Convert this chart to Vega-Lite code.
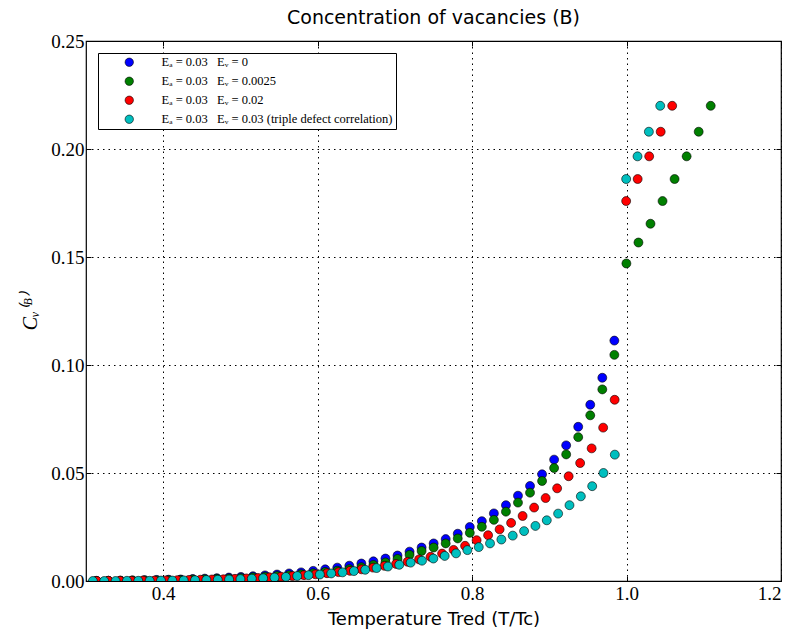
{
  "$schema": "https://vega.github.io/schema/vega-lite/v6.json",
  "width": 695,
  "height": 540,
  "autosize": {"type": "none"},
  "padding": {"left": 86, "top": 41, "right": 13, "bottom": 52},
  "background": "white",
  "title": {
    "text": "Concentration of vacancies (B)",
    "font": "DejaVu Sans",
    "fontSize": 19,
    "fontWeight": "normal",
    "color": "black",
    "anchor": "middle",
    "offset": 4
  },
  "config": {
    "view": {"stroke": "black", "strokeWidth": 1.2},
    "axis": {
      "domain": false,
      "tickColor": "black",
      "tickSize": -5,
      "tickWidth": 1,
      "labelColor": "black",
      "labelFont": "Liberation Serif",
      "labelFontSize": 19,
      "titleColor": "black",
      "titleFontWeight": "normal",
      "gridColor": "black",
      "gridDash": [1.5, 4],
      "gridWidth": 1,
      "gridOpacity": 1,
      "zindex": 1
    }
  },
  "data": {
    "values": [
      {"Ev": "0", "T": 0.9842, "C": 0.1113},
      {"Ev": "0", "T": 0.9686, "C": 0.0941},
      {"Ev": "0", "T": 0.9530, "C": 0.0816},
      {"Ev": "0", "T": 0.9374, "C": 0.0714},
      {"Ev": "0", "T": 0.9218, "C": 0.0628},
      {"Ev": "0", "T": 0.9062, "C": 0.0562},
      {"Ev": "0", "T": 0.8906, "C": 0.0494},
      {"Ev": "0", "T": 0.8750, "C": 0.0440},
      {"Ev": "0", "T": 0.8594, "C": 0.0395},
      {"Ev": "0", "T": 0.8438, "C": 0.0351},
      {"Ev": "0", "T": 0.8282, "C": 0.0313},
      {"Ev": "0", "T": 0.8126, "C": 0.0277},
      {"Ev": "0", "T": 0.7970, "C": 0.0250},
      {"Ev": "0", "T": 0.7814, "C": 0.0219},
      {"Ev": "0", "T": 0.7658, "C": 0.0194},
      {"Ev": "0", "T": 0.7502, "C": 0.0174},
      {"Ev": "0", "T": 0.7346, "C": 0.0155},
      {"Ev": "0", "T": 0.7190, "C": 0.0136},
      {"Ev": "0", "T": 0.7034, "C": 0.0118},
      {"Ev": "0", "T": 0.6878, "C": 0.0104},
      {"Ev": "0", "T": 0.6722, "C": 0.0091},
      {"Ev": "0", "T": 0.6566, "C": 0.0081},
      {"Ev": "0", "T": 0.6410, "C": 0.0071},
      {"Ev": "0", "T": 0.6254, "C": 0.0062},
      {"Ev": "0", "T": 0.6098, "C": 0.0054},
      {"Ev": "0", "T": 0.5942, "C": 0.0047},
      {"Ev": "0", "T": 0.5786, "C": 0.0040},
      {"Ev": "0", "T": 0.5630, "C": 0.0035},
      {"Ev": "0", "T": 0.5474, "C": 0.0030},
      {"Ev": "0", "T": 0.5318, "C": 0.0026},
      {"Ev": "0", "T": 0.5162, "C": 0.0022},
      {"Ev": "0", "T": 0.5006, "C": 0.0019},
      {"Ev": "0", "T": 0.4850, "C": 0.0016},
      {"Ev": "0", "T": 0.4694, "C": 0.0013},
      {"Ev": "0", "T": 0.4538, "C": 0.0011},
      {"Ev": "0", "T": 0.4382, "C": 0.0009},
      {"Ev": "0", "T": 0.4226, "C": 0.0007},
      {"Ev": "0", "T": 0.4070, "C": 0.0006},
      {"Ev": "0", "T": 0.3914, "C": 0.0005},
      {"Ev": "0", "T": 0.3758, "C": 0.0004},
      {"Ev": "0", "T": 0.3602, "C": 0.0003},
      {"Ev": "0", "T": 0.3446, "C": 0.0002},
      {"Ev": "0", "T": 0.3290, "C": 0.0001},
      {"Ev": "0", "T": 0.3134, "C": 0.0001},

      {"Ev": "0.0025", "T": 1.1090, "C": 0.2200},
      {"Ev": "0.0025", "T": 1.0934, "C": 0.2080},
      {"Ev": "0.0025", "T": 1.0778, "C": 0.1966},
      {"Ev": "0.0025", "T": 1.0622, "C": 0.1861},
      {"Ev": "0.0025", "T": 1.0466, "C": 0.1759},
      {"Ev": "0.0025", "T": 1.0310, "C": 0.1654},
      {"Ev": "0.0025", "T": 1.0154, "C": 0.1567},
      {"Ev": "0.0025", "T": 0.9998, "C": 0.1470},
      {"Ev": "0.0025", "T": 0.9842, "C": 0.1047},
      {"Ev": "0.0025", "T": 0.9686, "C": 0.0887},
      {"Ev": "0.0025", "T": 0.9530, "C": 0.0767},
      {"Ev": "0.0025", "T": 0.9374, "C": 0.0666},
      {"Ev": "0.0025", "T": 0.9218, "C": 0.0586},
      {"Ev": "0.0025", "T": 0.9062, "C": 0.0523},
      {"Ev": "0.0025", "T": 0.8906, "C": 0.0463},
      {"Ev": "0.0025", "T": 0.8750, "C": 0.0409},
      {"Ev": "0.0025", "T": 0.8594, "C": 0.0363},
      {"Ev": "0.0025", "T": 0.8438, "C": 0.0321},
      {"Ev": "0.0025", "T": 0.8282, "C": 0.0283},
      {"Ev": "0.0025", "T": 0.8126, "C": 0.0251},
      {"Ev": "0.0025", "T": 0.7970, "C": 0.0223},
      {"Ev": "0.0025", "T": 0.7814, "C": 0.0197},
      {"Ev": "0.0025", "T": 0.7658, "C": 0.0174},
      {"Ev": "0.0025", "T": 0.7502, "C": 0.0155},
      {"Ev": "0.0025", "T": 0.7346, "C": 0.0139},
      {"Ev": "0.0025", "T": 0.7190, "C": 0.0121},
      {"Ev": "0.0025", "T": 0.7034, "C": 0.0102},
      {"Ev": "0.0025", "T": 0.6878, "C": 0.0086},
      {"Ev": "0.0025", "T": 0.6722, "C": 0.0074},
      {"Ev": "0.0025", "T": 0.6566, "C": 0.0064},
      {"Ev": "0.0025", "T": 0.6410, "C": 0.0055},
      {"Ev": "0.0025", "T": 0.6254, "C": 0.0048},
      {"Ev": "0.0025", "T": 0.6098, "C": 0.0042},
      {"Ev": "0.0025", "T": 0.5942, "C": 0.0036},
      {"Ev": "0.0025", "T": 0.5786, "C": 0.0031},
      {"Ev": "0.0025", "T": 0.5630, "C": 0.0027},
      {"Ev": "0.0025", "T": 0.5474, "C": 0.0023},
      {"Ev": "0.0025", "T": 0.5318, "C": 0.0020},
      {"Ev": "0.0025", "T": 0.5162, "C": 0.0017},
      {"Ev": "0.0025", "T": 0.5006, "C": 0.0014},
      {"Ev": "0.0025", "T": 0.4850, "C": 0.0012},
      {"Ev": "0.0025", "T": 0.4694, "C": 0.0010},
      {"Ev": "0.0025", "T": 0.4538, "C": 0.0008},
      {"Ev": "0.0025", "T": 0.4382, "C": 0.0007},
      {"Ev": "0.0025", "T": 0.4226, "C": 0.0005},
      {"Ev": "0.0025", "T": 0.4070, "C": 0.0004},
      {"Ev": "0.0025", "T": 0.3914, "C": 0.0003},
      {"Ev": "0.0025", "T": 0.3758, "C": 0.0003},
      {"Ev": "0.0025", "T": 0.3602, "C": 0.0002},
      {"Ev": "0.0025", "T": 0.3446, "C": 0.0001},
      {"Ev": "0.0025", "T": 0.3290, "C": 0.0001},
      {"Ev": "0.0025", "T": 0.3134, "C": 0.0000},

      {"Ev": "0.02", "T": 1.0591, "C": 0.2200},
      {"Ev": "0.02", "T": 1.0442, "C": 0.2080},
      {"Ev": "0.02", "T": 1.0293, "C": 0.1966},
      {"Ev": "0.02", "T": 1.0144, "C": 0.1861},
      {"Ev": "0.02", "T": 0.9995, "C": 0.1759},
      {"Ev": "0.02", "T": 0.9846, "C": 0.0839},
      {"Ev": "0.02", "T": 0.9697, "C": 0.0710},
      {"Ev": "0.02", "T": 0.9548, "C": 0.0614},
      {"Ev": "0.02", "T": 0.9399, "C": 0.0546},
      {"Ev": "0.02", "T": 0.9250, "C": 0.0485},
      {"Ev": "0.02", "T": 0.9101, "C": 0.0429},
      {"Ev": "0.02", "T": 0.8952, "C": 0.0384},
      {"Ev": "0.02", "T": 0.8803, "C": 0.0340},
      {"Ev": "0.02", "T": 0.8654, "C": 0.0301},
      {"Ev": "0.02", "T": 0.8505, "C": 0.0269},
      {"Ev": "0.02", "T": 0.8356, "C": 0.0239},
      {"Ev": "0.02", "T": 0.8207, "C": 0.0212},
      {"Ev": "0.02", "T": 0.8058, "C": 0.0189},
      {"Ev": "0.02", "T": 0.7909, "C": 0.0163},
      {"Ev": "0.02", "T": 0.7760, "C": 0.0144},
      {"Ev": "0.02", "T": 0.7611, "C": 0.0127},
      {"Ev": "0.02", "T": 0.7462, "C": 0.0112},
      {"Ev": "0.02", "T": 0.7313, "C": 0.0100},
      {"Ev": "0.02", "T": 0.7164, "C": 0.0089},
      {"Ev": "0.02", "T": 0.7015, "C": 0.0079},
      {"Ev": "0.02", "T": 0.6866, "C": 0.0070},
      {"Ev": "0.02", "T": 0.6717, "C": 0.0062},
      {"Ev": "0.02", "T": 0.6568, "C": 0.0054},
      {"Ev": "0.02", "T": 0.6419, "C": 0.0047},
      {"Ev": "0.02", "T": 0.6270, "C": 0.0041},
      {"Ev": "0.02", "T": 0.6121, "C": 0.0036},
      {"Ev": "0.02", "T": 0.5972, "C": 0.0031},
      {"Ev": "0.02", "T": 0.5823, "C": 0.0027},
      {"Ev": "0.02", "T": 0.5674, "C": 0.0023},
      {"Ev": "0.02", "T": 0.5525, "C": 0.0020},
      {"Ev": "0.02", "T": 0.5376, "C": 0.0017},
      {"Ev": "0.02", "T": 0.5227, "C": 0.0014},
      {"Ev": "0.02", "T": 0.5078, "C": 0.0012},
      {"Ev": "0.02", "T": 0.4929, "C": 0.0010},
      {"Ev": "0.02", "T": 0.4780, "C": 0.0008},
      {"Ev": "0.02", "T": 0.4631, "C": 0.0007},
      {"Ev": "0.02", "T": 0.4482, "C": 0.0006},
      {"Ev": "0.02", "T": 0.4333, "C": 0.0005},
      {"Ev": "0.02", "T": 0.4184, "C": 0.0004},
      {"Ev": "0.02", "T": 0.4035, "C": 0.0003},
      {"Ev": "0.02", "T": 0.3886, "C": 0.0002},
      {"Ev": "0.02", "T": 0.3737, "C": 0.0002},
      {"Ev": "0.02", "T": 0.3588, "C": 0.0001},
      {"Ev": "0.02", "T": 0.3439, "C": 0.0001},
      {"Ev": "0.02", "T": 0.3290, "C": 0.0001},
      {"Ev": "0.02", "T": 0.3141, "C": 0.0000},

      {"Ev": "0.03", "T": 1.0436, "C": 0.2200},
      {"Ev": "0.03", "T": 1.0289, "C": 0.2080},
      {"Ev": "0.03", "T": 1.0142, "C": 0.1966},
      {"Ev": "0.03", "T": 0.9995, "C": 0.1861},
      {"Ev": "0.03", "T": 0.9848, "C": 0.0585},
      {"Ev": "0.03", "T": 0.9701, "C": 0.0500},
      {"Ev": "0.03", "T": 0.9555, "C": 0.0439},
      {"Ev": "0.03", "T": 0.9408, "C": 0.0392},
      {"Ev": "0.03", "T": 0.9261, "C": 0.0351},
      {"Ev": "0.03", "T": 0.9114, "C": 0.0312},
      {"Ev": "0.03", "T": 0.8967, "C": 0.0281},
      {"Ev": "0.03", "T": 0.8820, "C": 0.0255},
      {"Ev": "0.03", "T": 0.8673, "C": 0.0231},
      {"Ev": "0.03", "T": 0.8526, "C": 0.0210},
      {"Ev": "0.03", "T": 0.8379, "C": 0.0192},
      {"Ev": "0.03", "T": 0.8232, "C": 0.0174},
      {"Ev": "0.03", "T": 0.8086, "C": 0.0157},
      {"Ev": "0.03", "T": 0.7939, "C": 0.0143},
      {"Ev": "0.03", "T": 0.7792, "C": 0.0128},
      {"Ev": "0.03", "T": 0.7645, "C": 0.0116},
      {"Ev": "0.03", "T": 0.7498, "C": 0.0104},
      {"Ev": "0.03", "T": 0.7351, "C": 0.0094},
      {"Ev": "0.03", "T": 0.7204, "C": 0.0085},
      {"Ev": "0.03", "T": 0.7057, "C": 0.0075},
      {"Ev": "0.03", "T": 0.6910, "C": 0.0067},
      {"Ev": "0.03", "T": 0.6763, "C": 0.0060},
      {"Ev": "0.03", "T": 0.6616, "C": 0.0052},
      {"Ev": "0.03", "T": 0.6469, "C": 0.0046},
      {"Ev": "0.03", "T": 0.6322, "C": 0.0040},
      {"Ev": "0.03", "T": 0.6176, "C": 0.0035},
      {"Ev": "0.03", "T": 0.6029, "C": 0.0030},
      {"Ev": "0.03", "T": 0.5882, "C": 0.0027},
      {"Ev": "0.03", "T": 0.5735, "C": 0.0023},
      {"Ev": "0.03", "T": 0.5588, "C": 0.0019},
      {"Ev": "0.03", "T": 0.5441, "C": 0.0016},
      {"Ev": "0.03", "T": 0.5294, "C": 0.0013},
      {"Ev": "0.03", "T": 0.5147, "C": 0.0011},
      {"Ev": "0.03", "T": 0.5000, "C": 0.0009},
      {"Ev": "0.03", "T": 0.4853, "C": 0.0007},
      {"Ev": "0.03", "T": 0.4706, "C": 0.0006},
      {"Ev": "0.03", "T": 0.4559, "C": 0.0005},
      {"Ev": "0.03", "T": 0.4412, "C": 0.0004},
      {"Ev": "0.03", "T": 0.4265, "C": 0.0003},
      {"Ev": "0.03", "T": 0.4118, "C": 0.0002},
      {"Ev": "0.03", "T": 0.3971, "C": 0.0002},
      {"Ev": "0.03", "T": 0.3824, "C": 0.0001},
      {"Ev": "0.03", "T": 0.3677, "C": 0.0001},
      {"Ev": "0.03", "T": 0.3530, "C": 0.0001},
      {"Ev": "0.03", "T": 0.3383, "C": 0.0000},
      {"Ev": "0.03", "T": 0.3236, "C": 0.0000},
      {"Ev": "0.03", "T": 0.3089, "C": 0.0000}
    ]
  },
  "layer": [
    {
      "mark": {
        "type": "point",
        "shape": "circle",
        "filled": true,
        "size": 80,
        "opacity": 1,
        "stroke": "black",
        "strokeWidth": 0.6,
        "clip": true
      },
      "encoding": {
        "x": {
          "field": "T",
          "type": "quantitative",
          "scale": {"domain": [0.3, 1.2], "nice": false, "zero": false},
          "axis": {
            "orient": "bottom",
            "values": [0.4, 0.6, 0.8, 1.0, 1.2],
            "format": ".1f",
            "grid": true,
            "labelPadding": 8,
            "title": "Temperature Tred (T/Tc)",
            "titleFont": "DejaVu Sans",
            "titleFontSize": 18,
            "titlePadding": 7
          }
        },
        "y": {
          "field": "C",
          "type": "quantitative",
          "scale": {"domain": [0, 0.25], "nice": false},
          "axis": {
            "orient": "left",
            "values": [0, 0.05, 0.1, 0.15, 0.2, 0.25],
            "format": ".2f",
            "grid": true,
            "labelPadding": 7,
            "title": "Cᵥ⁽ᴮ⁾",
            "titleFont": "Liberation Serif",
            "titleFontStyle": "italic",
            "titleFontSize": 20,
            "titlePadding": 10
          }
        },
        "color": {
          "field": "Ev",
          "type": "nominal",
          "scale": {
            "domain": ["0", "0.0025", "0.02", "0.03"],
            "range": ["#0000ff", "#008000", "#ff0000", "#00bfbf"]
          },
          "legend": {
            "orient": "none",
            "legendX": 12,
            "legendY": 12,
            "title": null,
            "padding": 3,
            "strokeColor": "black",
            "fillColor": "white",
            "symbolType": "circle",
            "symbolSize": 70,
            "symbolStrokeColor": "black",
            "symbolStrokeWidth": 0.6,
            "symbolOffset": 22,
            "labelOffset": 26,
            "rowPadding": 6,
            "labelFont": "Liberation Serif",
            "labelFontSize": 12.5,
            "labelColor": "black",
            "labelLimit": 0,
            "labelExpr": "'Eₐ = 0.03\u00a0\u00a0 Eᵥ = ' + datum.label + (datum.label == '0.03' ? ' (triple defect correlation)' : '')"
          }
        }
      }
    },
    {
      "mark": {"type": "point", "opacity": 0},
      "encoding": {
        "x": {
          "field": "T",
          "type": "quantitative",
          "axis": {
            "orient": "top",
            "values": [0.4, 0.6, 0.8, 1.0, 1.2],
            "labels": false,
            "grid": false,
            "title": null
          }
        },
        "y": {
          "field": "C",
          "type": "quantitative",
          "axis": {
            "orient": "right",
            "values": [0, 0.05, 0.1, 0.15, 0.2, 0.25],
            "labels": false,
            "grid": false,
            "title": null
          }
        }
      }
    }
  ],
  "resolve": {"axis": {"x": "independent", "y": "independent"}}
}
